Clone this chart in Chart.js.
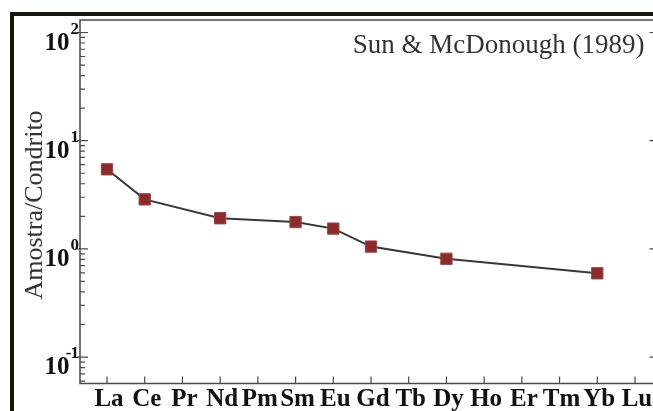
<!DOCTYPE html>
<html>
<head>
<meta charset="utf-8">
<script src="https://cdn.jsdelivr.net/npm/chart.js@4/dist/chart.umd.min.js"></script>
<style>
  html, body { margin: 0; padding: 0; background: #fff; }
  #wrap { position: relative; width: 653px; height: 411px; overflow: hidden; background: #fff; }
  #frameTop { position: absolute; left: 10px; top: 12px; width: 660px; height: 4px; background: #1b1511; }
  #frameLeft { position: absolute; left: 10px; top: 12px; width: 4px; height: 420px; background: #1b1511; }
  canvas { position: absolute; left: 0; top: 0; }
</style>
</head>
<body>
<div id="wrap">
  <canvas id="ree" width="670" height="411"></canvas>
  <div id="frameTop"></div>
  <div id="frameLeft"></div>
</div>
<script>
const elements = ["La", "Ce", "Pr", "Nd", "Pm", "Sm", "Eu", "Gd", "Tb", "Dy", "Ho", "Er", "Tm", "Yb", "Lu"];
const normValues = [5.44, 2.87, null, 1.92, null, 1.77, 1.54, 1.05, null, 0.81, null, null, null, 0.595, null];
const yMajorTicks = [0.1, 1, 10, 100];
const yExponents = ["-1", "0", "1", "2"];
const yTitle = "Amostra/Condrito";
const refLabel = "Sun & McDonough (1989)";

const serif = '"Liberation Serif", "DejaVu Serif", serif';

// axes, ticks and labels drawn by hand so they look like the original plot
const axesPlugin = {
  id: "axesPlugin",
  beforeDatasetsDraw(chart) {
    const ctx = chart.ctx;
    const a = chart.chartArea;
    const xs = chart.scales.x;
    const ys = chart.scales.y;
    ctx.save();

    // box
    ctx.strokeStyle = "#4a4a4a";
    ctx.lineWidth = 1.5;
    ctx.strokeRect(a.left, a.top, a.right - a.left, a.bottom - a.top);

    // y ticks (major + minor), left and right side
    ctx.lineWidth = 1.2;
    for (let e = -2; e <= 2; e++) {
      for (let m = 1; m <= 9; m++) {
        const v = m * Math.pow(10, e);
        if (v < ys.min || v > ys.max) continue;
        const y = ys.getPixelForValue(v);
        const major = m === 1;
        ctx.beginPath();
        ctx.moveTo(a.left - (major ? 3 : 0), y);
        ctx.lineTo(a.left + (major ? 8 : 5), y);
        ctx.moveTo(a.right, y);
        ctx.lineTo(a.right - (major ? 10 : 5), y);
        ctx.stroke();
      }
    }

    // x ticks
    elements.forEach((el, i) => {
      const x = xs.getPixelForValue(i);
      ctx.beginPath();
      ctx.moveTo(x, a.bottom);
      ctx.lineTo(x, a.bottom - 7);
      ctx.stroke();
    });

    // x labels
    ctx.fillStyle = "#111";
    ctx.font = "bold 25px " + serif;
    ctx.textAlign = "center";
    ctx.textBaseline = "alphabetic";
    elements.forEach((el, i) => {
      ctx.fillText(el, xs.getPixelForValue(i) + 2, 406);
    });

    // y labels 10^n
    yMajorTicks.forEach((v, i) => {
      const y = ys.getPixelForValue(v);
      let exp = yExponents[i];
      const neg = exp.startsWith("-");
      if (neg) exp = exp.slice(1);
      ctx.font = "bold 17px " + serif;
      ctx.textAlign = "right";
      const ew = ctx.measureText(exp).width;
      ctx.fillText(exp, a.left - 1, y + 1);
      if (neg) ctx.fillText("-", a.left - 1 - ew + 1, y + 1);
      ctx.font = "bold 25px " + serif;
      ctx.fillText("10", a.left - 2 - ew - (neg ? 0 : 0), y + 17);
    });

    // y title
    ctx.save();
    ctx.translate(42, 205);
    ctx.rotate(-Math.PI / 2);
    ctx.font = "26px " + serif;
    ctx.fillStyle = "#333";
    ctx.textAlign = "center";
    ctx.fillText(yTitle, 0, 0);
    ctx.restore();

    // reference label
    ctx.font = "27px " + serif;
    ctx.fillStyle = "#333";
    ctx.textAlign = "right";
    ctx.fillText(refLabel, a.right - 15, 53);

    ctx.restore();
  }
};

new Chart(document.getElementById("ree"), {
  type: "line",
  data: {
    datasets: [{
      data: elements.map((el, i) => ({ x: i, y: normValues[i] })),
      spanGaps: true,
      borderColor: "#383838",
      borderWidth: 2,
      tension: 0,
      pointStyle: "rect",
      pointRadius: 8,
      pointHoverRadius: 8,
      pointBackgroundColor: "#8b2b2b",
      pointBorderColor: "#9c4444",
      pointBorderWidth: 1
    }]
  },
  options: {
    responsive: false,
    animation: false,
    layout: { padding: { left: 80, top: 20, right: 10.5, bottom: 27.5 } },
    scales: {
      x: { type: "linear", min: -0.716, max: 14.65, display: false },
      y: { type: "logarithmic", min: 0.057, max: 130.5, display: false }
    },
    plugins: {
      legend: { display: false },
      tooltip: { enabled: false }
    }
  },
  plugins: [axesPlugin]
});
</script>
</body>
</html>
